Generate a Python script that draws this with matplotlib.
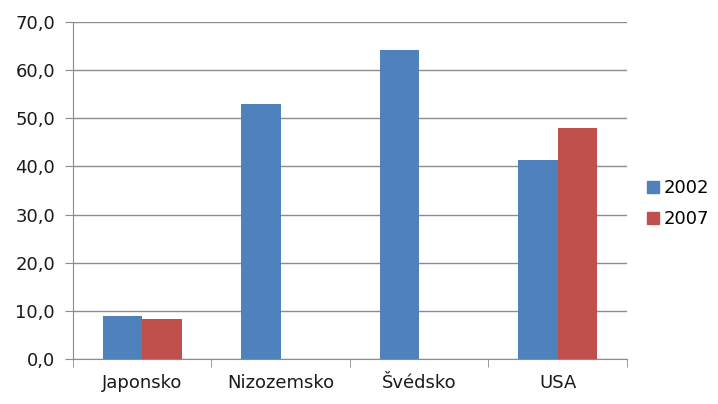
import numpy as np
import matplotlib.pyplot as plt
from matplotlib.lines import Line2D

# Data
countries = ["Japonsko", "Nizozemsko", "Švédsko", "USA"]
years = ["2002", "2007"]
vals_2002 = [9.0, 53.0, 64.2, 41.3]
vals_2007 = [8.3, 0.0, 0.0, 48.0]
colors = ["#4F81BD", "#C0504D"]

plt.rcParams['font.family'] = ['DejaVu Sans']
fig = plt.figure(figsize=(7.18, 4.04), dpi=100)
ax = fig.add_axes([0.1017, 0.1114, 0.7713, 0.8341])

x = np.arange(len(countries))
w = 0.285
ax.bar(x - w / 2, vals_2002, w, color=colors[0], zorder=3)
ax.bar(x + w / 2, vals_2007, w, color=colors[1], zorder=3)

ax.set_xlim(-0.5, len(countries) - 0.5)
ax.set_ylim(0, 70)
ax.set_yticks(np.arange(0, 71, 10))
ax.set_yticklabels([f"{v:.1f}".replace(".", ",") for v in np.arange(0, 71, 10)])
ax.yaxis.grid(True, color="#8c8c8c", linewidth=1)
ax.set_axisbelow(True)

ax.set_xticks(x)
ax.set_xticklabels(countries)
ax.set_xticks(np.arange(-0.5, len(countries)), minor=True)
ax.tick_params(axis="x", which="major", length=0, pad=11, labelsize=13, colors="#1a1a1a")
ax.tick_params(axis="x", which="minor", length=6, color="#8c8c8c")
ax.tick_params(axis="y", length=6, color="#8c8c8c", labelsize=13, labelcolor="#1a1a1a", pad=7)

for s in ["top", "right"]:
    ax.spines[s].set_visible(False)
for s in ["left", "bottom"]:
    ax.spines[s].set_color("#8c8c8c")

handles = [Line2D([], [], marker="s", linestyle="none", markersize=8,
                  markerfacecolor=c, markeredgecolor=c) for c in colors]
fig.legend(handles, years, loc="upper left", bbox_to_anchor=(0.891, 0.575),
           frameon=False, fontsize=13, handletextpad=0.25, labelspacing=0.75,
           handlelength=0.7, borderaxespad=0)

fig.savefig("out.png", dpi=100)
